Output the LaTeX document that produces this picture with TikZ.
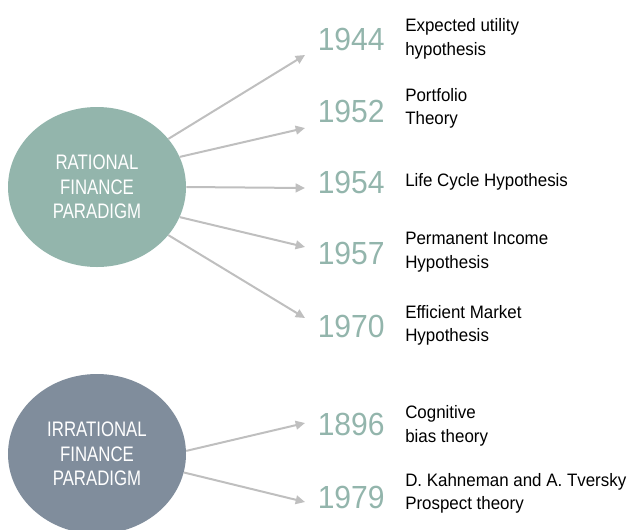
\documentclass[tikz,border=0pt]{standalone}
\usepackage{fontspec}
\setmainfont{Liberation Sans}[FakeStretch=0.94]
\newfontfamily\circfont{Liberation Sans}[FakeStretch=0.8]
\usetikzlibrary{shapes,arrows.meta}
\definecolor{sage}{HTML}{93B5AC}
\definecolor{slate}{HTML}{808D9C}
\definecolor{arrgray}{HTML}{BFBFBF}

\begin{document}
\begin{tikzpicture}[x=0.75pt,y=-0.75pt]
\tikzstyle{para}=[shape=ellipse,minimum width=133.5pt,minimum height=120pt,inner sep=0pt,align=center,text=white,font=\circfont\fontsize{15.75}{18.4}\selectfont]
\tikzstyle{yr}=[anchor=west,inner sep=0pt,text=sage,font=\fontsize{24}{24}\selectfont]
\tikzstyle{lbl}=[anchor=west,inner sep=0pt,align=left,font=\fontsize{13.5}{17.6}\selectfont]
\tikzstyle{arr}=[draw=arrgray,line width=1.5pt,-{Triangle[length=7pt,width=6.5pt]}]
\useasboundingbox (0,0) rectangle (630,529);
\clip (0,0) rectangle (630,529);
\node[para,fill=sage] (r) at (97,187) {RATIONAL\\FINANCE\\PARADIGM};
\node[para,fill=slate] (i) at (97,454) {IRRATIONAL\\FINANCE\\PARADIGM};
\node[yr] (y1) at (317.5,39.5) {1944};
\node[yr] (y2) at (317.5,111) {1952};
\node[yr] (y3) at (317.5,182.5) {1954};
\node[yr] (y4) at (317.5,253.5) {1957};
\node[yr] (y5) at (317.5,326) {1970};
\node[yr] (y6) at (317.5,424) {1896};
\node[yr] (y7) at (317.5,497.5) {1979};
\node[lbl] (t1) at (405,38.8) {Expected utility\\hypothesis};
\node[lbl] (t2) at (405,108.3) {Portfolio\\Theory};
\node[lbl] (t3) at (405,182.3) {Life Cycle Hypothesis};
\node[lbl] (t4) at (405,252.3) {Permanent Income\\Hypothesis};
\node[lbl] (t5) at (405,325.3) {Efficient Market\\Hypothesis};
\node[lbl] (t6) at (405,425.8) {Cognitive\\bias theory};
\node[lbl] (t7) at (405,493.3) {D. Kahneman and A. Tversky\\Prospect theory};
\coordinate (e1) at (305,55);
\coordinate (e2) at (305,128);
\coordinate (e3) at (305,188);
\coordinate (e4) at (305,247);
\coordinate (e5) at (305,318);
\coordinate (e6) at (305,423);
\coordinate (e7) at (305,502);
\draw[arr] (r.34) -- (e1);
\draw[arr] (r.20) -- (e2);
\draw[arr] (r.0) -- (e3);
\draw[arr] (r.-20) -- (e4);
\draw[arr] (r.-34) -- (e5);
\draw[arr] (i.2) -- (e6);
\draw[arr] (i.-12) -- (e7);
\end{tikzpicture}
\end{document}
